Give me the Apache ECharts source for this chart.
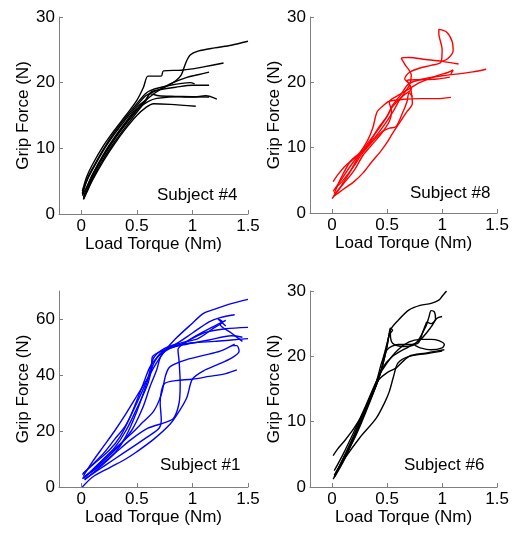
<!DOCTYPE html>
<html><head><meta charset="utf-8">
<script src="https://cdn.jsdelivr.net/npm/echarts@6/dist/echarts.min.js"></script>
<style>html,body{margin:0;padding:0;background:#fff}#c{width:512px;height:533px}</style>
</head><body><div id="c"></div>
<script>
// Tick values
var xTicks = [0, 0.5, 1, 1.5];
var yTicks30 = [0, 10, 20, 30];
var yTicks70 = [0, 20, 40, 60];
var xName = 'Load Torque (Nm)';
var yName = 'Grip Force (N)';
var panelLabels = ['Subject #4', 'Subject #8', 'Subject #1', 'Subject #6'];

// Subject #4 traces [torque, grip]
var subject4 = [
  [[0.01,3.5],[0.05,5.7],[0.1,7.5],[0.2,10.4],[0.3,12.8],[0.4,15.0],[0.5,17.3],[0.56,19.3],[0.6,21],[0.66,21],[0.72,21],[0.74,21.8],[0.9,21.9],[1.0,22.1],[1.1,22.4],[1.28,23]],
  [[0.01,3.0],[0.05,5.0],[0.1,6.7],[0.2,9.7],[0.3,12.2],[0.4,14.4],[0.5,16.5],[0.58,18],[0.65,18.6],[0.75,19.3],[0.85,20.3],[0.9,21.2],[0.94,23],[0.98,24.2],[1.05,24.8],[1.2,25.3],[1.35,25.7],[1.5,26.3]],
  [[0.02,2.6],[0.06,4.4],[0.1,6.0],[0.2,9.1],[0.3,11.7],[0.4,14.0],[0.5,16.2],[0.6,17.6],[0.67,18.5],[0.8,19.8],[0.95,20.8],[1.05,21.2],[1.15,21.6]],
  [[0.02,2.3],[0.06,4.0],[0.1,5.6],[0.2,8.8],[0.3,11.4],[0.4,13.7],[0.5,15.8],[0.58,17.4],[0.63,18.6],[0.7,18.9],[0.85,19.3],[1.0,19.6],[1.15,19.6]],
  [[0.02,2.4],[0.06,3.8],[0.1,5.3],[0.2,8.4],[0.3,11.0],[0.4,13.3],[0.5,15.5],[0.58,17.2],[0.62,18.3],[0.7,18.0],[0.85,17.9],[1.0,17.8],[1.12,18.0],[1.22,17.5]],
  [[0.02,2.2],[0.05,3.3],[0.1,5.1],[0.2,8.1],[0.3,10.7],[0.4,13.0],[0.5,15.0],[0.58,16.2],[0.65,16.8],[0.8,16.7],[1.03,16.4]],
  [[0.01,2.8],[0.06,4.5],[0.1,5.9],[0.2,8.9],[0.3,11.5],[0.4,13.8],[0.5,15.9],[0.6,17.1],[0.68,17.6],[0.9,17.9],[1.15,17.8]],
  [[0.01,3.2],[0.05,5.2],[0.1,6.9],[0.2,9.9],[0.3,12.5],[0.4,14.7],[0.5,16.8],[0.57,18.2],[0.62,18.8],[0.8,19.6],[0.98,20],[1.02,19.8]]
];

// Subject #8 traces
var subject8 = [
  [[0.0,2.2],[0.05,3.3],[0.1,4.6],[0.17,6.5],[0.25,8.9],[0.33,10.8],[0.42,12.8],[0.5,14.8],[0.55,16.5],[0.62,18],[0.7,19.8],[0.85,20.6],[1.0,21],[1.15,21.3],[1.28,21.6],[1.4,22]],
  [[0.01,4.8],[0.05,5.8],[0.12,7.2],[0.2,8.3],[0.25,9],[0.3,9.8],[0.35,11],[0.42,13],[0.5,14.8],[0.55,16.3],[0.65,18],[0.72,19],[0.68,20.3],[0.8,20.4],[0.95,20.5],[1.07,20.8]],
  [[0.02,3.0],[0.08,5.3],[0.17,8.0],[0.25,9.2],[0.32,11],[0.37,13],[0.41,15.5],[0.47,16.5],[0.52,17.1],[0.65,17.4],[0.8,17.5],[0.95,17.5],[1.08,17.7]],
  [[0.01,2.5],[0.1,3.6],[0.2,4.8],[0.28,6.1],[0.36,7.8],[0.44,9.4],[0.5,10.8],[0.55,12.2],[0.62,14],[0.68,15.5],[0.73,16.8],[0.72,18.5],[0.7,19.8],[0.66,20.5],[0.7,21.5],[0.8,22.2],[0.9,22.6],[0.99,23.1],[1.0,25],[0.97,27.5],[0.97,28.1],[1.04,27.7],[1.09,26.3],[1.1,24.8],[1.05,23.6],[1.0,23.2]],
  [[0.01,3.3],[0.08,5],[0.18,7.5],[0.25,9],[0.32,10.2],[0.4,11.8],[0.48,13.6],[0.55,15.4],[0.62,17.5],[0.7,19.5],[0.72,21.1],[0.66,22.8],[0.63,23.7],[0.7,23.8],[0.85,23.5],[1.0,23.2],[1.15,22.8]],
  [[0.02,2.8],[0.1,4.4],[0.2,6.5],[0.28,8.8],[0.36,10.4],[0.45,12.2],[0.52,14],[0.54,15.5],[0.52,17],[0.6,18],[0.68,18.8],[0.8,20],[0.95,21],[1.05,21.5],[1.1,21.9],[1.08,21.3]],
  [[0.03,3.8],[0.1,5.0],[0.2,7.2],[0.27,9.0],[0.35,10.6],[0.45,12.4],[0.52,13.0],[0.58,13.2],[0.64,15.3],[0.68,17],[0.7,18.4],[0.73,17.8]]
];

// Subject #1 traces
var subject1 = [
  [[0.02,4],[0.1,9],[0.2,14.5],[0.3,20],[0.4,26],[0.5,32.5],[0.6,39],[0.68,44.5],[0.75,48.5],[0.85,53],[1.0,58.5],[1.1,62],[1.2,63.5],[1.35,65.5],[1.5,67]],
  [[0.01,3],[0.1,6],[0.2,10],[0.3,14],[0.4,20],[0.5,28],[0.6,37],[0.65,44],[0.72,48],[0.85,51],[1.0,55],[1.15,59],[1.25,60.5],[1.38,61.5]],
  [[0.03,2.5],[0.15,6.5],[0.3,12],[0.4,18],[0.5,27],[0.58,36],[0.63,42],[0.64,46.5],[0.75,49],[0.9,51],[1.1,55],[1.3,56.5],[1.5,57]],
  [[0.02,5],[0.12,8.5],[0.25,13],[0.35,18],[0.45,26],[0.55,36],[0.62,43],[0.7,47],[0.8,50],[1.0,51.5],[1.2,52],[1.35,52.5],[1.5,53]],
  [[0.02,3.5],[0.15,7],[0.3,12],[0.45,17],[0.6,21],[0.75,23],[0.83,24.5],[0.88,30],[0.89,37],[0.88,45],[0.87,49],[0.95,52],[1.1,55.5],[1.25,58.5],[1.3,59.5],[1.25,58],[1.35,55],[1.45,52]],
  [[0.03,2.8],[0.15,6],[0.3,10],[0.45,14],[0.6,18],[0.7,21],[0.72,24],[0.71,30],[0.72,34],[0.75,37],[0.85,38],[1.0,38.5],[1.15,39.5],[1.3,40.5],[1.4,41.8]],
  [[0.01,0],[0.1,3.5],[0.26,7],[0.4,10],[0.5,12.6],[0.65,17],[0.8,22.5],[0.88,27],[0.95,32],[1.0,38.5],[1.1,41.5],[1.22,43.6],[1.35,46],[1.42,48.5],[1.4,50.5],[1.35,50.5]],
  [[0.02,3],[0.15,8],[0.3,13.5],[0.45,19],[0.55,23],[0.65,27],[0.72,33],[0.76,40],[0.8,43],[0.95,45.5],[1.1,47],[1.25,48.5],[1.38,51]],
  [[0.01,4.5],[0.1,8],[0.2,12],[0.3,17],[0.4,22],[0.5,30],[0.6,39],[0.65,46],[0.75,49.5],[0.9,51.5],[1.05,53],[1.2,57],[1.27,59],[1.23,60],[1.3,57.5]],
  [[0.03,3.5],[0.15,7.5],[0.3,13],[0.45,20],[0.55,28],[0.62,36],[0.68,42],[0.72,47],[0.8,49.5],[0.95,51],[1.15,52.5],[1.35,54],[1.45,53.5]]
];

// Subject #6 traces
var subject6 = [
  [[0.02,1.5],[0.1,4],[0.2,7.5],[0.3,11.5],[0.4,15.5],[0.45,18],[0.5,21.5],[0.53,24],[0.6,25.5],[0.7,27.1],[0.8,27.8],[0.9,28.1],[0.97,28.6],[1.0,29.2],[1.04,30]],
  [[0.03,2],[0.12,4.7],[0.22,8],[0.32,12],[0.42,16.5],[0.48,20],[0.52,23.5],[0.53,24.3],[0.55,24],[0.53,23.5],[0.55,22],[0.65,21.5],[0.75,21.8],[0.85,24.5],[0.88,26],[0.9,27],[0.93,26.8],[0.94,25.7],[0.9,25],[0.87,25.2]],
  [[0.01,1.2],[0.1,3.8],[0.2,7.5],[0.3,11.5],[0.4,15.8],[0.45,18],[0.55,20],[0.7,21.5],[0.8,22.5],[0.9,24.5],[0.95,25.8],[1.0,26.1]],
  [[0.02,2.5],[0.1,5],[0.2,8.5],[0.3,12.2],[0.42,16.8],[0.5,19],[0.6,21],[0.7,22.2],[0.8,22.6],[0.9,22.6],[0.97,22.4],[1.02,21.8],[1.0,21.3],[0.9,21],[0.8,21.3],[0.75,21.7]],
  [[0.03,2],[0.12,5],[0.22,8.5],[0.32,12.3],[0.42,16.3],[0.5,17.5],[0.58,18.2],[0.7,20],[0.85,20.5],[0.95,20.8],[1.02,21]],
  [[0.02,1.8],[0.1,4],[0.25,7.5],[0.4,10.5],[0.48,13],[0.52,14.6],[0.56,17],[0.6,19],[0.7,20],[0.85,20.4],[1.0,20.8]],
  [[0.01,4.8],[0.05,5.8],[0.12,7.2],[0.2,9],[0.3,11.8],[0.4,15.5],[0.45,18],[0.47,20],[0.5,22],[0.53,24]],
  [[0.02,1.5],[0.1,4.3],[0.2,8],[0.3,12],[0.4,16],[0.45,19],[0.5,21],[0.6,21.8],[0.7,21.8],[0.78,22],[0.83,24],[0.86,25.3]]
];

var panels = [
  {data: subject4, color: '#000000', yMax: 30, yTicks: yTicks30},
  {data: subject8, color: '#ff0000', yMax: 30, yTicks: yTicks30},
  {data: subject1, color: '#0000ff', yMax: 70, yTicks: yTicks70},
  {data: subject6, color: '#000000', yMax: 30, yTicks: yTicks30}
];

var font = "'Liberation Sans', Arial, sans-serif";
var axisColor = '#7f7f7f';
var grids = [
  {left: 59, top: 17, width: 189, height: 197},
  {left: 310, top: 17, width: 188, height: 196},
  {left: 59, top: 291, width: 189, height: 196},
  {left: 310, top: 291, width: 188, height: 196}
];
var labelPos = [[157,195],[410,193],[160,465],[404,465]];

var xAxes = [], yAxes = [], series = [], graphics = [];
panels.forEach(function (p, i) {
  xAxes.push({
    gridIndex: i, type: 'value', min: -0.2, max: 1.5,
    axisLine: {show: true, onZero: false, lineStyle: {color: axisColor, width: 1}},
    axisTick: {show: true, inside: true, length: 4, customValues: xTicks, lineStyle: {color: axisColor}},
    axisLabel: {customValues: xTicks, color: '#000', fontSize: 17, fontFamily: font, margin: 4},
    splitLine: {show: false},
    name: xName, nameLocation: 'middle', nameGap: 18,
    nameTextStyle: {color: '#000', fontSize: 17, fontFamily: font}
  });
  yAxes.push({
    gridIndex: i, type: 'value', min: 0, max: p.yMax,
    axisLine: {show: true, onZero: false, lineStyle: {color: axisColor, width: 1}},
    axisTick: {show: true, inside: true, length: 4, customValues: p.yTicks, lineStyle: {color: axisColor}},
    axisLabel: {customValues: p.yTicks, color: '#000', fontSize: 17, fontFamily: font, margin: 4},
    splitLine: {show: false},
    name: yName, nameLocation: 'middle', nameGap: 27,
    nameTextStyle: {color: '#000', fontSize: 17, fontFamily: font}
  });
  p.data.forEach(function (trace) {
    series.push({
      type: 'line', xAxisIndex: i, yAxisIndex: i, data: trace,
      showSymbol: false, smooth: 0.3, silent: true, animation: false,
      lineStyle: {color: p.color, width: 1.4}
    });
  });
  graphics.push({
    type: 'text', x: labelPos[i][0], y: labelPos[i][1],
    style: {text: panelLabels[i], font: '17px ' + font, fill: '#000', verticalAlign: 'middle', align: 'left'}
  });
});

var chart = echarts.init(document.getElementById('c'), null, {renderer: 'canvas'});
chart.setOption({
  animation: false,
  grid: grids,
  xAxis: xAxes,
  yAxis: yAxes,
  series: series,
  graphic: graphics
});
</script>
</body></html>
